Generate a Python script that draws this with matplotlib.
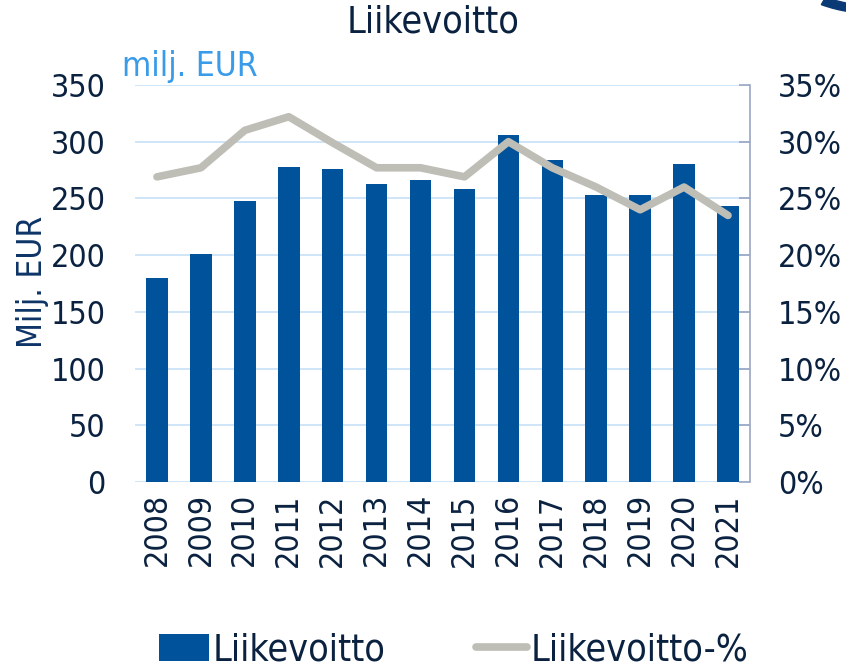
import numpy as np
import matplotlib.pyplot as plt
from matplotlib.patches import Wedge

# Arvot luettu kuvasta
vuodet = ["2008", "2009", "2010", "2011", "2012", "2013", "2014",
          "2015", "2016", "2017", "2018", "2019", "2020", "2021"]
liikevoitto = [180, 201, 248, 278, 276, 263, 266, 258, 306, 284, 253, 253, 280, 243]
liikevoitto_pct = [26.9, 27.7, 31.0, 32.2, 29.9, 27.7, 27.7, 26.9, 30.0, 27.7, 26.0, 24.0, 26.0, 23.5]

bar_color = "#00529b"
line_color = "#bebeb7"
text_color = "#0a2240"
grid_color = "#cce3f8"

plt.rcParams["font.family"] = "DejaVu Sans"
plt.rcParams["font.stretch"] = "condensed"

fig = plt.figure(figsize=(8.46, 6.68), dpi=100)
ax = fig.add_axes([0.1596, 0.2784, 0.7269, 0.5944])
ax2 = ax.twinx()

x = np.arange(len(vuodet))
ax.bar(x, liikevoitto, width=0.49, color=bar_color, zorder=3, label="Liikevoitto")
ax2.plot(x, liikevoitto_pct, color=line_color, linewidth=5.5, solid_capstyle="round",
         label="Liikevoitto-%")

ax.set_xlim(-0.5, len(vuodet) - 0.5)
ax.set_ylim(0, 350)
ax.set_yticks(np.arange(0, 351, 50))
ax2.set_ylim(0, 35)
ax2.set_yticks(np.arange(0, 36, 5))
ax2.set_yticklabels([f"{v}%" for v in range(0, 36, 5)])

ax.set_xticks(x)
ax.set_xticklabels(vuodet, rotation=90)
ax.yaxis.grid(True, color=grid_color, linewidth=1.3, zorder=0)
ax.set_axisbelow(True)

for a in (ax, ax2):
    for s in ("top", "left", "bottom"):
        a.spines[s].set_visible(False)
ax.spines["right"].set_visible(False)
ax2.spines["right"].set_color("#9aa6c4")
ax2.spines["right"].set_linewidth(1.2)

ax.tick_params(axis="y", length=0, pad=21, labelsize=23, labelcolor=text_color)
ax.tick_params(axis="x", length=0, pad=8, labelsize=23, labelcolor=text_color)
ax2.tick_params(axis="y", direction="in", length=8, width=1.2, color="#9aa6c4",
                pad=20, labelsize=23, labelcolor=text_color)

fig.text(0.039, 0.578, "Milj. EUR", rotation=90, ha="center", va="center",
         fontsize=24, color="#0d3466")

fig.text(0.512, 0.966, "Liikevoitto", ha="center", va="center", fontsize=27, color=text_color)
fig.text(0.144, 0.9, "milj. EUR", ha="left", va="center", fontsize=24, color="#3a9be8")

h1, l1 = ax.get_legend_handles_labels()
h2, l2 = ax2.get_legend_handles_labels()
fig.legend(h1 + h2, l1 + l2, loc="center", bbox_to_anchor=(0.536, 0.026), ncol=2,
           frameon=False, fontsize=27, labelcolor=text_color, handlelength=1.35,
           handleheight=0.75, handletextpad=0.1, columnspacing=2.4)

# koriste oikeassa yläkulmassa
fig.patches.append(Wedge((1.03, 1.12), 0.14, 245, 275, width=0.012,
                         transform=fig.transFigure, color="#0a3a75"))

fig.savefig("out.png", dpi=100)
